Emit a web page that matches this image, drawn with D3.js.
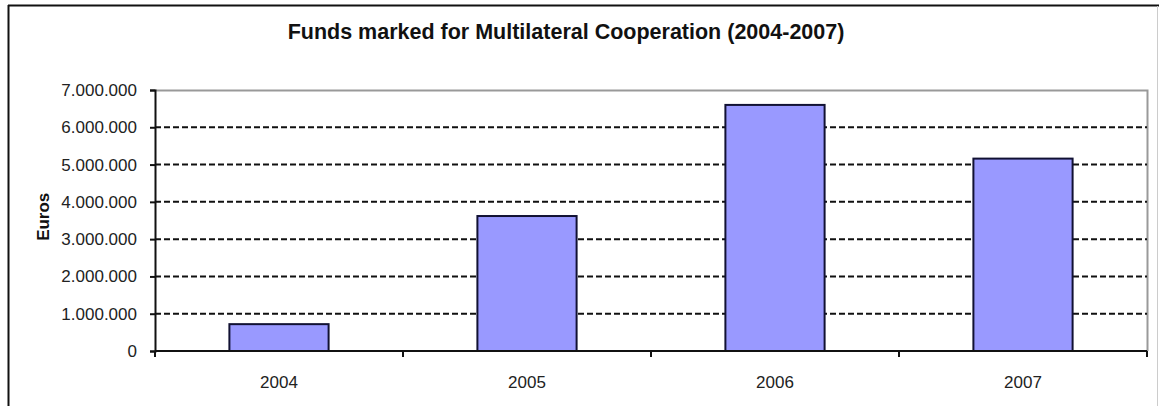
<!DOCTYPE html>
<meta charset="utf-8">
<head>
    <title>Funds marked for Multilateral Cooperation</title>
    <script type="text/javascript" src="https://cdn.jsdelivr.net/npm/d3@7"></script>
    <style>
        body { margin: 0; background: white; }
        text { font-family: Arial, "Liberation Sans", sans-serif; fill: #222; }
    </style>
</head>
<body>
    <script>
        // chart data
        const years = ["2004", "2005", "2006", "2007"]
        const funds = [720000, 3620000, 6600000, 5160000]
        const yTicks = [0, 1000000, 2000000, 3000000, 4000000, 5000000, 6000000, 7000000]

        // dimensions
        w = 1159
        h = 406
        margin = {top: 90, right: 12, bottom: 55, left: 155}

        let svg = d3.select("body").append("svg")
        .attr("width", w)
        .attr("height", h)

        // outer frame (only left, top and a faint right edge are visible)
        svg.append("line").attr("x1", 8).attr("x2", w).attr("y1", 5.5).attr("y2", 5.5)
        .attr("stroke", "#111").attr("stroke-width", 2)
        svg.append("line").attr("x1", 8.5).attr("x2", 8.5).attr("y1", 5).attr("y2", h)
        .attr("stroke", "#111").attr("stroke-width", 2)
        svg.append("line").attr("x1", 1157.5).attr("x2", 1157.5).attr("y1", 6).attr("y2", h)
        .attr("stroke", "#ccc").attr("stroke-width", 1)

        let x = d3.scaleBand()
        .domain(years)
        .range([margin.left, w - margin.right])
        .padding(0)

        let y = d3.scaleLinear()
        .domain([0, 7000000])
        .range([h - margin.bottom, margin.top])

        const fmt = d => d3.format(",")(d).replace(/,/g, ".")

        // plot area border (grey top/right)
        svg.append("path")
        .attr("d", "M" + margin.left + "," + (y(7000000) + 0.5) + "H" + (w - margin.right + 0.5) + "V" + y(0))
        .attr("fill", "none")
        .attr("stroke", "#999")
        .attr("stroke-width", 2)

        // dashed gridlines
        svg.append("g")
        .selectAll("line")
        .data(yTicks.filter(d => d > 0 && d < 7000000))
        .enter()
        .append("line")
        .attr("x1", margin.left)
        .attr("x2", w - margin.right)
        .attr("y1", d => y(d))
        .attr("y2", d => y(d))
        .attr("stroke", "#111")
        .attr("stroke-width", 2)
        .attr("stroke-dasharray", "6,3")

        // bars
        svg.append("g")
        .selectAll("rect")
        .data(years)
        .enter()
        .append("rect")
        .attr("x", d => x(d) + x.bandwidth() * 0.3)
        .attr("width", x.bandwidth() * 0.4)
        .attr("y", (d, i) => y(funds[i]))
        .attr("height", (d, i) => y(0) - y(funds[i]))
        .attr("fill", "#9999ff")
        .attr("stroke", "#111133")
        .attr("stroke-width", 2)

        // y axis
        let yAxis = svg.append("g")
        .attr("transform", "translate(" + margin.left + ",0)")
        .call(d3.axisLeft(y).tickValues(yTicks).tickFormat(fmt).tickSize(5).tickPadding(13))
        yAxis.select(".domain").attr("stroke", "#111").attr("stroke-width", 2)
        yAxis.selectAll(".tick line").attr("stroke", "#111").attr("stroke-width", 2)
        yAxis.selectAll("text")
        .style("font-size", "17px")
        .style("font-family", "Arial, 'Liberation Sans', sans-serif")
        .style("fill", "#222")

        // x axis: ticks at band boundaries
        let xAxis = svg.append("g")
        .attr("transform", "translate(0," + y(0) + ")")
        xAxis.append("line")
        .attr("x1", margin.left).attr("x2", w - margin.right)
        .attr("stroke", "#111").attr("stroke-width", 2)
        xAxis.selectAll(".xtick")
        .data(years.concat(["end"]))
        .enter()
        .append("line")
        .attr("class", "xtick")
        .attr("x1", d => d === "end" ? x.range()[1] : x(d))
        .attr("x2", d => d === "end" ? x.range()[1] : x(d))
        .attr("y1", 0).attr("y2", 6)
        .attr("stroke", "#111").attr("stroke-width", 2)
        xAxis.selectAll(".xlabel")
        .data(years)
        .enter()
        .append("text")
        .attr("class", "xlabel")
        .attr("x", d => x(d) + x.bandwidth() / 2)
        .attr("y", 37)
        .attr("text-anchor", "middle")
        .style("font-size", "17px")
        .text(d => d)

        // title
        svg.append("text")
        .attr("x", 566)
        .attr("y", 39)
        .attr("text-anchor", "middle")
        .style("font-size", "21.5px")
        .style("font-weight", "bold")
        .style("fill", "#111")
        .text("Funds marked for Multilateral Cooperation (2004-2007)")

        // y axis title
        svg.append("text")
        .attr("transform", "translate(49," + y(3600000) + ") rotate(-90)")
        .attr("text-anchor", "middle")
        .style("font-size", "17px")
        .style("font-weight", "bold")
        .style("fill", "#111")
        .text("Euros")
    </script>
</body>
</html>
